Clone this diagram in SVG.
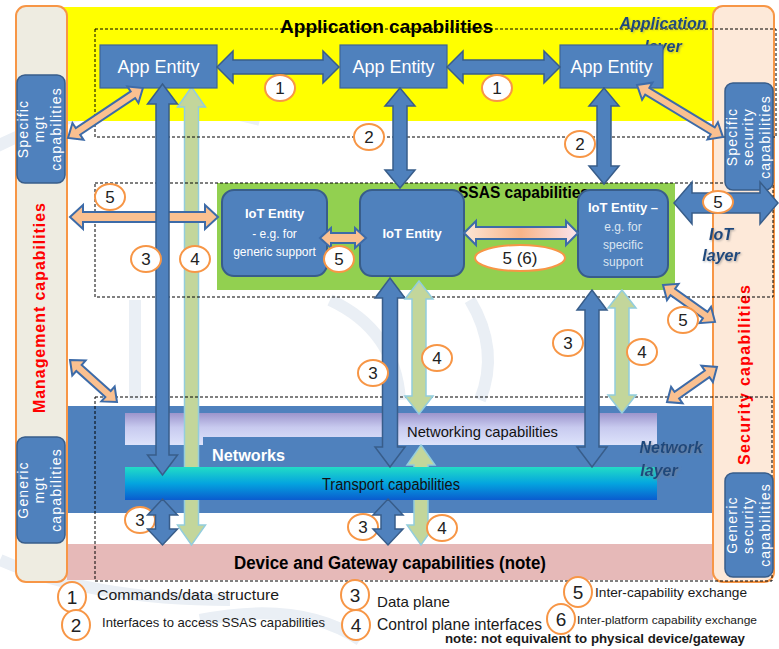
<svg xmlns="http://www.w3.org/2000/svg" width="779" height="649" viewBox="0 0 779 649">
  <defs>
    <linearGradient id="gLav" x1="0" y1="0" x2="0" y2="1">
      <stop offset="0" stop-color="#9c95cc"/>
      <stop offset="0.45" stop-color="#c8caef"/>
      <stop offset="1" stop-color="#dde3fb"/>
    </linearGradient>
    <linearGradient id="gTrans" x1="0" y1="0" x2="0" y2="1">
      <stop offset="0" stop-color="#22dcc6"/>
      <stop offset="0.5" stop-color="#04a4df"/>
      <stop offset="1" stop-color="#0a5ccf"/>
    </linearGradient>
    <linearGradient id="gPeach" x1="0" y1="0" x2="1" y2="0">
      <stop offset="0" stop-color="#fde6d6"/>
      <stop offset="0.5" stop-color="#f8b489"/>
      <stop offset="1" stop-color="#fbe4ee"/>
    </linearGradient>
    <filter id="soft" x="-10%" y="-20%" width="130%" height="150%">
      <feDropShadow dx="1" dy="1" stdDeviation="1" flood-color="#7f7f7f" flood-opacity="0.6"/>
    </filter>
    <style>
      .t { font-family: "Liberation Sans", Arial, sans-serif; }
      .band { stroke: none; }
      .col { stroke: #f79646; stroke-width: 2; }
      .sub rect { fill: #4f81bd; stroke: #385d8a; stroke-width: 1.5; }
      .sub text { fill: #ffffff; stroke: none; font-size: 14px; letter-spacing: 1.2px; }
      .app rect { fill: #4f81bd; stroke: #3c6496; stroke-width: 1.2; }
      .app text { fill: #ffffff; font-size: 18px; text-anchor: middle; }
      .iot rect { fill: #4f81bd; stroke: #385d8a; stroke-width: 2; }
      .iot text { fill: #ffffff; text-anchor: middle; }
      .layer { fill: none; stroke: #000000; stroke-width: 1; stroke-dasharray: 3 2; }
      .blue { fill: #4f81bd; stroke: #385d8a; stroke-width: 1.5; stroke-linejoin: miter; }
      .green { fill: #c3d69b; stroke: #93cddd; stroke-width: 1.5; }
      .peach { fill: #fac090; stroke: #3d6ba8; stroke-width: 2; }
      .num ellipse { fill: #ffffff; stroke: #f79646; stroke-width: 2; }
      .num text { fill: #222222; font-size: 17px; text-anchor: middle; }
      .lyr { fill: #1f497d; font-weight: bold; font-style: italic; font-size: 16px; text-anchor: middle; }
      .red { fill: #ff0000; font-weight: bold; font-size: 16px; text-anchor: middle; }
      .leg { fill: #1a1a1a; }
      .wm { fill: none; stroke: #eaeff5; stroke-width: 12; }
    </style>
  </defs>

  <!-- page -->
  <rect x="0" y="0" width="779" height="649" fill="#ffffff"/>

  <!-- faint background emblem -->
  <g id="emblem">
    <path class="wm" d="M-10,150 Q120,80 260,120"/>
    <path class="wm" d="M0,560 Q90,600 230,600"/>
    <path class="wm" d="M135,300 L135,400"/>
    <path class="wm" d="M330,300 Q395,330 400,400"/>
    <path class="wm" d="M470,300 Q500,350 480,400"/>
    <path class="wm" d="M200,620 Q300,600 360,640"/>
  </g>

  <!-- capability bands -->
  <g id="bands">
    <rect class="band" x="60" y="7" width="660" height="114" fill="#ffff00"/>
    <rect class="band" x="217" y="183" width="458" height="107" fill="#92d050"/>
    <rect class="band" x="67" y="406" width="646" height="107" fill="#4f81bd"/>
    <rect class="band" x="67" y="544" width="646" height="36" fill="#e6b9b8"/>
  </g>

  <!-- networking and transport bars -->
  <g id="networking">
    <path d="M125,413 H657 V445 H397 V437 H203 V445 H125 Z" fill="url(#gLav)"/>
    <text class="t" x="407" y="437" font-size="15" fill="#111111" textLength="151" lengthAdjust="spacingAndGlyphs">Networking capabilities</text>
  </g>
  <text class="t" x="212" y="461" font-size="17" font-weight="bold" fill="#ffffff" textLength="73" lengthAdjust="spacingAndGlyphs">Networks</text>

  <!-- green control-plane arrows that run behind the transport bar -->
  <g id="ctrl-under">
    <path class="green" d="M191.5,87 L205.5,107 L198.5,107 L198.5,525 L205.5,525 L191.5,545 L177.5,525 L184.5,525 L184.5,107 L177.5,107 Z"/>
    <path class="green" d="M421,445 L435,465 L428,465 L428,525 L435,525 L421,545 L407,525 L414,525 L414,465 L407,465 Z"/>
  </g>

  <g id="transport">
    <rect x="125" y="467" width="532" height="33" fill="url(#gTrans)"/>
    <text class="t" x="322" y="490" font-size="16" fill="#111111" textLength="138" lengthAdjust="spacingAndGlyphs">Transport capabilities</text>
  </g>

  <!-- management column -->
  <g id="management">
    <rect class="col" x="16" y="6" width="51" height="576" rx="10" fill="#eeece1"/>
    <text class="t red" transform="translate(45,308) rotate(-90)" textLength="210" lengthAdjust="spacing">Management capabilities</text>
  </g>
  <g id="specific-mgt" class="sub">
    <rect x="17" y="75" width="48" height="108" rx="8"/>
    <g class="t" transform="translate(41,129) rotate(-90)" text-anchor="middle">
      <text x="0" y="-13">Specific</text>
      <text x="0" y="3">mgt</text>
      <text x="0" y="20">capabilities</text>
    </g>
  </g>
  <g id="generic-mgt" class="sub">
    <rect x="17" y="437" width="48" height="106" rx="8"/>
    <g class="t" transform="translate(41,490) rotate(-90)" text-anchor="middle">
      <text x="0" y="-13">Generic</text>
      <text x="0" y="3">mgt</text>
      <text x="0" y="20">capabilities</text>
    </g>
  </g>

  <!-- security column -->
  <g id="security">
    <rect class="col" x="713" y="6" width="61" height="576" rx="10" fill="#fde9d9"/>
    <text class="t red" transform="translate(750,375) rotate(-90)" textLength="180" lengthAdjust="spacing">Security capabilities</text>
  </g>

  <!-- layer outlines -->
  <g id="layers">
    <rect class="layer" x="95" y="29" width="681" height="108"/>
    <rect class="layer" x="95" y="183" width="678" height="114"/>
    <rect class="layer" x="95" y="397" width="677" height="184"/>
  </g>

  <g id="specific-security" class="sub">
    <rect x="725" y="83" width="48" height="107" rx="8"/>
    <g class="t" transform="translate(749,137) rotate(-90)" text-anchor="middle">
      <text x="0" y="-12">Specific</text>
      <text x="0" y="4">security</text>
      <text x="0" y="21">capabilities</text>
    </g>
  </g>
  <g id="generic-security" class="sub">
    <rect x="725" y="473" width="48" height="104" rx="8"/>
    <g class="t" transform="translate(749,525) rotate(-90)" text-anchor="middle">
      <text x="0" y="-12">Generic</text>
      <text x="0" y="4">security</text>
      <text x="0" y="21">capabilities</text>
    </g>
  </g>

  <!-- band titles -->
  <text class="t" x="280" y="33" font-size="19" font-weight="bold" fill="#000000" textLength="213" lengthAdjust="spacingAndGlyphs">Application capabilities</text>
  <text class="t" x="458" y="198" font-size="16" font-weight="bold" fill="#000000" textLength="131" lengthAdjust="spacingAndGlyphs">SSAS capabilities</text>
  <text class="t" x="390" y="569" font-size="18" font-weight="bold" fill="#000000" text-anchor="middle" textLength="312" lengthAdjust="spacingAndGlyphs">Device and Gateway capabilities (note)</text>

  <!-- layer names -->
  <g class="t" filter="url(#soft)">
    <text class="lyr" x="663" y="29">Application</text>
    <text class="lyr" x="663" y="52">layer</text>
    <text class="lyr" x="721" y="240" font-size="17">IoT</text>
    <text class="lyr" x="721" y="261" font-size="17">layer</text>
    <text class="lyr" x="671" y="453">Network</text>
    <text class="lyr" x="659" y="476">layer</text>
  </g>

  <!-- entities -->
  <g id="app-entity-1" class="app">
    <rect x="100" y="45" width="117" height="43"/>
    <text class="t" x="158.5" y="73">App Entity</text>
  </g>
  <g id="app-entity-2" class="app">
    <rect x="340" y="45" width="107" height="43"/>
    <text class="t" x="393.5" y="73">App Entity</text>
  </g>
  <g id="app-entity-3" class="app">
    <rect x="560" y="45" width="103" height="43"/>
    <text class="t" x="611.5" y="73">App Entity</text>
  </g>

  <g id="iot-entity-generic" class="iot">
    <rect x="222" y="190" width="105" height="86" rx="12"/>
    <text class="t" x="274.5" y="218" font-size="13" font-weight="bold">IoT Entity</text>
    <text class="t" x="274.5" y="238" font-size="12">- e.g. for</text>
    <text class="t" x="274.5" y="256" font-size="12">generic support</text>
  </g>
  <g id="iot-entity-core" class="iot">
    <rect x="360" y="190" width="104" height="86" rx="12"/>
    <text class="t" x="412" y="238" font-size="13" font-weight="bold">IoT Entity</text>
  </g>
  <g id="iot-entity-specific" class="iot">
    <rect x="578" y="190" width="90" height="87" rx="12"/>
    <text class="t" x="623" y="212" font-size="13" font-weight="bold">IoT Entity –</text>
    <text class="t" x="623" y="231" font-size="12" style="fill:#dbe5f1">e.g.  for</text>
    <text class="t" x="623" y="249" font-size="12" style="fill:#dbe5f1">specific</text>
    <text class="t" x="623" y="266" font-size="12" style="fill:#dbe5f1">support</text>
  </g>

  <!-- number tags that sit under the lower arrows -->
  <g class="num t">
    <ellipse cx="140" cy="520" rx="15" ry="13"/><text x="140" y="526">3</text>
    <ellipse cx="363" cy="527" rx="15" ry="13"/><text x="363" y="533">3</text>
    <ellipse cx="442" cy="528" rx="15" ry="13"/><text x="442" y="534">4</text>
  </g>

  <!-- connectors -->
  <g id="connectors">
    <!-- 1: between application entities -->
    <path class="blue" d="M217,67 L233,51 L233,60 L323,60 L323,51 L339,67 L323,83 L323,74 L233,74 L233,83 Z"/>
    <path class="blue" d="M447,67 L463,51 L463,60 L544,60 L544,51 L560,67 L544,83 L544,74 L463,74 L463,83 Z"/>
    <!-- 2: application to SSAS -->
    <path class="blue" d="M400,88 L415,106 L407,106 L407,170 L415,170 L400,188 L385,170 L393,170 L393,106 L385,106 Z"/>
    <path class="blue" d="M604,88 L619,106 L611,106 L611,166 L619,166 L604,184 L589,166 L597,166 L597,106 L589,106 Z"/>
    <!-- 5: inter-capability exchange -->
    <path class="peach" d="M0,0 L12,-10 L12,-4 L78,-4 L78,-10 L90,0 L78,10 L78,4 L12,4 L12,10 Z" transform="translate(68,138) rotate(-33.7)"/>
    <path class="peach" d="M0,0 L12,-10 L12,-4 L88.5,-4 L88.5,-10 L100.5,0 L88.5,10 L88.5,4 L12,4 L12,10 Z" transform="translate(637,85) rotate(31.2)"/>
    <path class="peach" d="M0,0 L12,-10 L12,-4 L51.8,-4 L51.8,-10 L63.8,0 L51.8,10 L51.8,4 L12,4 L12,10 Z" transform="translate(663,285) rotate(35.4)"/>
    <path class="peach" d="M0,0 L12,-10 L12,-4 L49,-4 L49,-10 L61,0 L49,10 L49,4 L12,4 L12,10 Z" transform="translate(667,402) rotate(-35)"/>
    <path class="peach" d="M0,0 L12,-10 L12,-4 L51,-4 L51,-10 L63,0 L51,10 L51,4 L12,4 L12,10 Z" transform="translate(70,360) rotate(41.8)"/>
    <path class="peach" d="M70,217 L83,205 L83,212 L205,212 L205,205 L218,217 L205,229 L205,222 L83,222 L83,229 Z"/>
    <path class="peach" d="M320,238 L331,228 L331,233 L355,233 L355,228 L366,238 L355,248 L355,243 L331,243 L331,248 Z"/>
    <path class="peach" style="fill:url(#gPeach)" d="M464,233 L476,221 L476,227 L566,227 L566,221 L578,233 L566,245 L566,239 L476,239 L476,245 Z"/>
    <path class="blue" d="M674,203 L692,182 L692,193 L760,193 L760,182 L778,203 L760,224 L760,213 L692,213 L692,224 Z"/>
    <!-- 3: data plane -->
    <path class="blue" d="M162.5,84 L177.5,104 L169,104 L169,455 L177.5,455 L162.5,475 L147.5,455 L156,455 L156,104 L147.5,104 Z"/>
    <path class="blue" d="M162.5,499 L177.5,515 L169.5,515 L169.5,529 L177.5,529 L162.5,545 L147.5,529 L155.5,529 L155.5,515 L147.5,515 Z"/>
    <path class="blue" d="M390,278 L405,298 L397.5,298 L397.5,447 L405,447 L390,467 L375,447 L382.5,447 L382.5,298 L375,298 Z"/>
    <path class="blue" d="M388,499 L403,515 L395,515 L395,529 L403,529 L388,545 L373,529 L381,529 L381,515 L373,515 Z"/>
    <path class="blue" d="M592,290 L607,310 L599,310 L599,447 L607,447 L592,467 L577,447 L585,447 L585,310 L577,310 Z"/>
    <!-- 4: control plane -->
    <path class="green" d="M419,281 L433,299 L426,299 L426,396 L433,396 L419,414 L405,396 L412,396 L412,299 L405,299 Z"/>
    <path class="green" d="M622,290 L636,308 L629,308 L629,395 L636,395 L622,413 L608,395 L615,395 L615,308 L608,308 Z"/>
  </g>

  <!-- number tags -->
  <g class="num t">
    <ellipse cx="280" cy="88" rx="15" ry="13"/><text x="280" y="94">1</text>
    <ellipse cx="497" cy="88" rx="15" ry="13"/><text x="497" y="94">1</text>
    <ellipse cx="369" cy="137" rx="15" ry="13"/><text x="369" y="143">2</text>
    <ellipse cx="580" cy="144" rx="15" ry="13"/><text x="580" y="150">2</text>
    <ellipse cx="110" cy="197" rx="15" ry="13"/><text x="110" y="203">5</text>
    <ellipse cx="146" cy="259" rx="15" ry="13"/><text x="146" y="265">3</text>
    <ellipse cx="195" cy="259" rx="15" ry="13"/><text x="195" y="265">4</text>
    <ellipse cx="339" cy="259" rx="15" ry="13"/><text x="339" y="265">5</text>
    <ellipse cx="520" cy="258" rx="45" ry="13"/><text x="520" y="264">5 (6)</text>
    <ellipse cx="718" cy="202" rx="15" ry="11"/><text x="718" y="208">5</text>
    <ellipse cx="683" cy="320" rx="15" ry="13"/><text x="683" y="326">5</text>
    <ellipse cx="373" cy="373" rx="15" ry="13"/><text x="373" y="379">3</text>
    <ellipse cx="437" cy="358" rx="15" ry="13"/><text x="437" y="364">4</text>
    <ellipse cx="568" cy="343" rx="15" ry="13"/><text x="568" y="349">3</text>
    <ellipse cx="642" cy="352" rx="15" ry="13"/><text x="642" y="358">4</text>
  </g>

  <!-- legend -->
  <g id="legend" class="t">
    <g class="num">
      <ellipse cx="72" cy="597" rx="14" ry="15"/><text x="72" y="604" style="font-size:19px">1</text>
      <ellipse cx="76" cy="625" rx="14" ry="15"/><text x="76" y="632" style="font-size:19px">2</text>
      <ellipse cx="355" cy="595" rx="14" ry="15"/><text x="355" y="602" style="font-size:19px">3</text>
      <ellipse cx="356" cy="625" rx="14" ry="15"/><text x="356" y="632" style="font-size:19px">4</text>
      <ellipse cx="578" cy="592" rx="14" ry="15"/><text x="578" y="599" style="font-size:19px">5</text>
      <ellipse cx="561" cy="619" rx="14" ry="15"/><text x="561" y="626" style="font-size:19px">6</text>
    </g>
    <text class="leg" x="97" y="600" font-size="15" textLength="182" lengthAdjust="spacingAndGlyphs">Commands/data structure</text>
    <text class="leg" x="102" y="627" font-size="13" textLength="223" lengthAdjust="spacingAndGlyphs">Interfaces to access SSAS capabilities</text>
    <text class="leg" x="377" y="607" font-size="15" textLength="73" lengthAdjust="spacingAndGlyphs">Data plane</text>
    <text class="leg" x="377" y="630" font-size="16" textLength="165" lengthAdjust="spacingAndGlyphs">Control plane interfaces</text>
    <text class="leg" x="595" y="597" font-size="13" textLength="152" lengthAdjust="spacingAndGlyphs">Inter-capability exchange</text>
    <text class="leg" x="577" y="624" font-size="11" textLength="180" lengthAdjust="spacingAndGlyphs">Inter-platform  capability exchange</text>
    <text class="leg" x="445" y="643" font-size="12" font-weight="bold" textLength="300" lengthAdjust="spacingAndGlyphs">note: not equivalent to physical device/gateway</text>
  </g>
</svg>
